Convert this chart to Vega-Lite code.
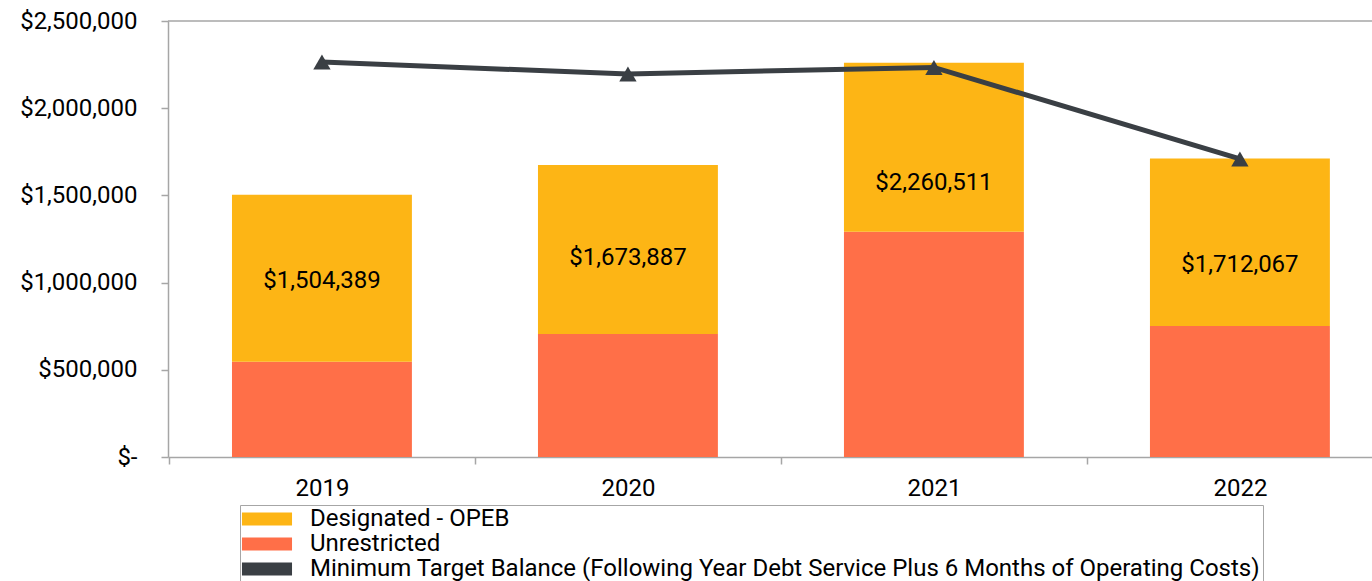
{
  "$schema": "https://vega.github.io/schema/vega-lite/v6.json",
  "autosize": {"type": "none"},
  "padding": {"left": 168, "top": 21, "right": 0, "bottom": 124},
  "width": 1204,
  "height": 436,
  "background": "white",
  "config": {
    "view": {"stroke": null},
    "font": "Roboto"
  },
  "datasets": {
    "bars": [
      {"year": "2019", "series": "Unrestricted", "amount": 546000},
      {"year": "2019", "series": "Designated - OPEB", "amount": 958389},
      {"year": "2020", "series": "Unrestricted", "amount": 705000},
      {"year": "2020", "series": "Designated - OPEB", "amount": 968887},
      {"year": "2021", "series": "Unrestricted", "amount": 1292000},
      {"year": "2021", "series": "Designated - OPEB", "amount": 968511},
      {"year": "2022", "series": "Unrestricted", "amount": 751000},
      {"year": "2022", "series": "Designated - OPEB", "amount": 961067}
    ],
    "target": [
      {"year": "2019", "series": "Minimum Target Balance (Following Year Debt Service Plus 6 Months of Operating Costs)", "amount": 2265000},
      {"year": "2020", "series": "Minimum Target Balance (Following Year Debt Service Plus 6 Months of Operating Costs)", "amount": 2196000},
      {"year": "2021", "series": "Minimum Target Balance (Following Year Debt Service Plus 6 Months of Operating Costs)", "amount": 2234000},
      {"year": "2022", "series": "Minimum Target Balance (Following Year Debt Service Plus 6 Months of Operating Costs)", "amount": 1709000}
    ],
    "totals": [
      {"year": "2019", "total": 1504389, "labelValue": 1009000},
      {"year": "2020", "total": 1673887, "labelValue": 1141000},
      {"year": "2021", "total": 2260511, "labelValue": 1571000},
      {"year": "2022", "total": 1712067, "labelValue": 1101000}
    ]
  },
  "layer": [
    {
      "data": {"name": "bars"},
      "mark": {"type": "bar"},
      "encoding": {
        "x": {
          "field": "year",
          "type": "nominal",
          "title": null,
          "scale": {"paddingInner": 0.412, "paddingOuter": 0.1734, "align": 0.603},
          "axis": {
            "title": null,
            "labelAngle": 0,
            "labelFont": "Roboto",
            "labelFontSize": 24,
            "labelColor": "#000000",
            "labelPadding": 12,
            "tickSize": 7,
            "tickOffset": -153,
            "labelOffset": 153,
            "domainColor": "#A6A6A6",
            "tickColor": "#A6A6A6",
            "domainWidth": 1.5,
            "tickWidth": 1.5
          }
        },
        "y": {
          "field": "amount",
          "type": "quantitative",
          "title": null,
          "stack": "zero",
          "scale": {"domain": [0, 2500000], "nice": false},
          "axis": {
            "title": null,
            "values": [0, 500000, 1000000, 1500000, 2000000, 2500000],
            "labelExpr": "datum.value === 0 ? '$-' : '$' + format(datum.value, ',')",
            "labelFont": "Roboto",
            "labelFontSize": 24,
            "labelColor": "#000000",
            "labelPadding": 24,
            "tickSize": 7,
            "domainColor": "#A6A6A6",
            "tickColor": "#A6A6A6",
            "domainWidth": 1.5,
            "tickWidth": 1.5,
            "grid": false
          }
        },
        "color": {
          "field": "series",
          "type": "nominal",
          "scale": {
            "domain": ["Designated - OPEB", "Unrestricted", "Minimum Target Balance (Following Year Debt Service Plus 6 Months of Operating Costs)"],
            "range": ["#FDB515", "#FF6F48", "#3A3F44"]
          },
          "legend": {
            "orient": "none",
            "legendX": 72,
            "legendY": 484,
            "direction": "vertical",
            "title": null,
            "padding": 2,
            "strokeColor": "#A6A6A6",
            "fillColor": "#ffffff",
            "labelFont": "Roboto",
            "labelFontSize": 24,
            "labelColor": "#000000",
            "labelOffset": 31,
            "labelLimit": 2000,
            "rowPadding": 1,
            "symbolType": "M-3.85,-1L3.85,-1L3.85,1L-3.85,1Z",
            "symbolSize": 169,
            "symbolOffset": 13,
            "symbolStrokeWidth": 0
          }
        },
        "order": {"field": "series", "sort": "descending"}
      }
    },
    {
      "data": {"name": "target"},
      "mark": {"type": "line", "strokeWidth": 5},
      "encoding": {
        "x": {"field": "year", "type": "nominal", "title": null},
        "y": {"field": "amount", "type": "quantitative", "title": null},
        "color": {"field": "series", "type": "nominal"}
      }
    },
    {
      "data": {"name": "target"},
      "mark": {"type": "point", "shape": "triangle-up", "filled": true, "size": 300, "color": "#3A3F44", "opacity": 1},
      "encoding": {
        "x": {"field": "year", "type": "nominal", "title": null},
        "y": {"field": "amount", "type": "quantitative", "title": null}
      }
    },
    {
      "data": {"name": "totals"},
      "mark": {"type": "text", "font": "Roboto", "fontSize": 24, "color": "#000000", "baseline": "middle", "align": "center"},
      "encoding": {
        "x": {"field": "year", "type": "nominal", "title": null},
        "y": {"field": "labelValue", "type": "quantitative", "title": null},
        "text": {"field": "total", "type": "quantitative", "format": "$,.0f"}
      }
    },
    {
      "data": {"values": [{"edge": 2500000}]},
      "mark": {"type": "rule", "color": "#A6A6A6", "strokeWidth": 1.5},
      "encoding": {
        "y": {"field": "edge", "type": "quantitative", "title": null}
      }
    }
  ]
}
